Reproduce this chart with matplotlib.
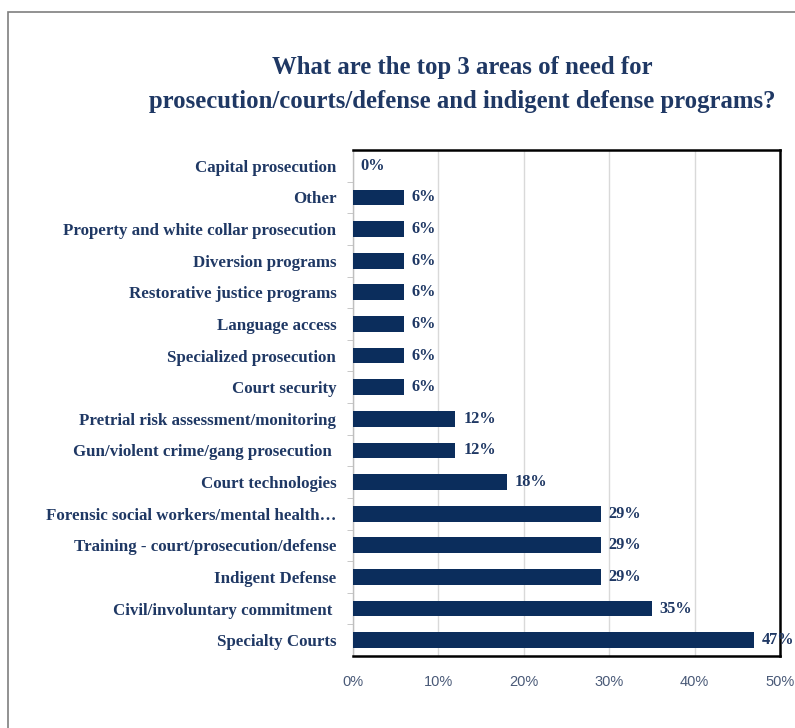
import matplotlib.pyplot as plt
from matplotlib.patches import Rectangle

# Kategorien von oben nach unten
categories = [
    "Capital prosecution",
    "Other",
    "Property and white collar prosecution",
    "Diversion programs",
    "Restorative justice programs",
    "Language access",
    "Specialized prosecution",
    "Court security",
    "Pretrial risk assessment/monitoring",
    "Gun/violent crime/gang prosecution ",
    "Court technologies",
    "Forensic social workers/mental health\u2026",
    "Training - court/prosecution/defense",
    "Indigent Defense",
    "Civil/involuntary commitment ",
    "Specialty Courts",
]
values = [0, 6, 6, 6, 6, 6, 6, 6, 12, 12, 18, 29, 29, 29, 35, 47]
xticks = [0, 10, 20, 30, 40, 50]
xtick_labels = ["0%", "10%", "20%", "30%", "40%", "50%"]

navy_text = "#1f3864"
bar_color = "#0b2d5c"
serif = ["Liberation Serif", "DejaVu Serif"]

fig = plt.figure(figsize=(7.95, 7.28), dpi=100)

# Rahmen um die gesamte Grafik
fig.patches.append(Rectangle((8 / 795, -0.05), 1.1, 1 - 12 / 728 + 0.05,
                             transform=fig.transFigure, fill=False,
                             edgecolor="#7f7f7f", linewidth=1.2))

ax = fig.add_axes([353 / 795, 1 - 656 / 728, 427 / 795, 506 / 728])

y = list(range(len(categories)))
ax.barh(y, values, height=0.5, color=bar_color, zorder=3)

for yi, v in zip(y, values):
    ax.text(v + 0.9, yi, f"{v}%", va="center", ha="left", fontsize=11.8,
            fontweight="bold", color=navy_text, family=serif, zorder=4)

ax.set_ylim(len(categories) - 0.5, -0.5)
ax.set_xlim(0, 50)

ax.set_yticks(y)
ax.set_yticklabels(categories, fontsize=12.2, fontweight="bold",
                   color=navy_text, family=serif)
ax.tick_params(axis="y", length=0, pad=12)
# kleine Trennstriche zwischen den Kategorien
ax.set_yticks([i + 0.5 for i in range(len(categories) - 1)], minor=True)
ax.tick_params(axis="y", which="minor", length=4, color="#bfbfbf")

ax.set_xticks(xticks)
ax.set_xticklabels(xtick_labels, fontsize=10.5, color="#4a5a78",
                   family=["Liberation Sans", "DejaVu Sans"])
ax.tick_params(axis="x", length=0, pad=14)

ax.grid(axis="x", color="#d9d9d9", linewidth=1.0, zorder=0)
ax.set_axisbelow(True)

for side in ["top", "right", "bottom"]:
    ax.spines[side].set_color("black")
    ax.spines[side].set_linewidth(1.8)
ax.spines["left"].set_color("#bfbfbf")
ax.spines["left"].set_linewidth(1.0)

fig.text(0.582, 0.884,
         "What are the top 3 areas of need for\n"
         "prosecution/courts/defense and indigent defense programs?",
         ha="center", va="center", fontsize=17.8, fontweight="bold",
         color=navy_text, family=serif, linespacing=1.65)

plt.savefig("out.png", dpi=100)
plt.close(fig)
